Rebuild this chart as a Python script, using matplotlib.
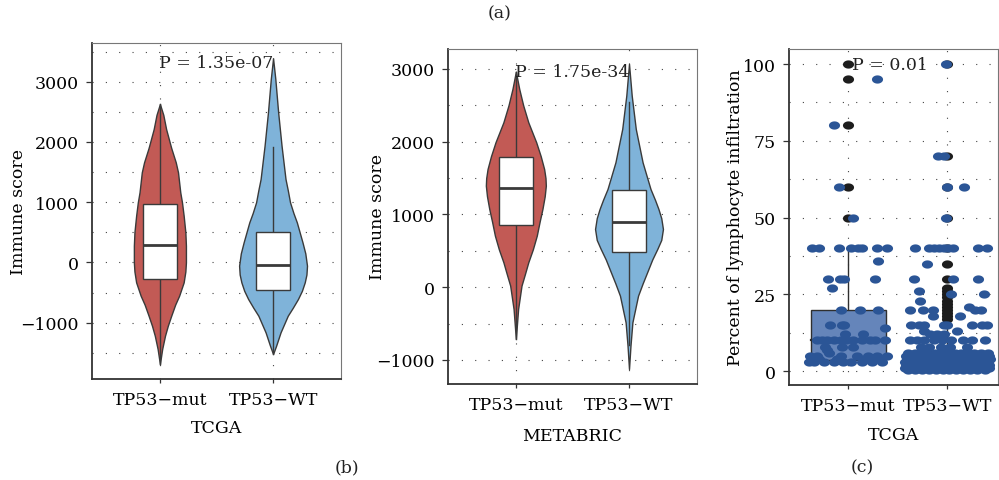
import numpy as np
import matplotlib
matplotlib.use("Agg")
import matplotlib.pyplot as plt
from matplotlib.path import Path

plt.rcParams['font.family'] = ['DejaVu Serif']
plt.rcParams['font.size'] = 12.5
plt.rcParams['text.color'] = '#222222'

groups = ["TP53\u2212mut", "TP53\u2212WT"]

# ---- panel (b) left: TCGA immune score, violin outline (value, half width) ----
tcga_mut_vy = [2630, 2450, 2213, 1900, 1662, 1496, 1164, 1000, 776, 500, 278, 0, -150, -330,
               -552, -700, -884, -1050, -1216, -1437, -1686]
tcga_mut_vw = [0.0, 0.03, 0.055, 0.10, 0.14, 0.16, 0.18, 0.195, 0.21, 0.225, 0.23, 0.23, 0.225, 0.21,
               0.17, 0.135, 0.10, 0.07, 0.045, 0.02, 0.0]
tcga_wt_vy = [3388, 3045, 2492, 1938, 1385, 1200, 998, 820, 666, 500, 334, 150, -54, -200, -330,
              -470, -607, -750, -884, -1161, -1382, -1520]
tcga_wt_vw = [0.0, 0.02, 0.045, 0.075, 0.11, 0.13, 0.15, 0.18, 0.21, 0.235, 0.26, 0.285, 0.30, 0.295, 0.28,
              0.255, 0.22, 0.175, 0.13, 0.066, 0.027, 0.0]
# box stats: whisker low, q1, median, q3, whisker high
tcga_mut_box = [-1680, -280, 290, 970, 2630]
tcga_wt_box = [-1520, -450, -40, 510, 1910]

# ---- panel (b) right: METABRIC immune score ----
meta_mut_vy = [2963, 2725, 2500, 2267, 1992, 1800, 1625, 1500, 1396, 1250, 1076, 900, 709, 520, 343,
               180, 22, -300, -711]
meta_mut_vw = [0.0, 0.03, 0.065, 0.11, 0.18, 0.22, 0.25, 0.262, 0.265, 0.255, 0.235, 0.21, 0.185, 0.15, 0.11,
               0.08, 0.05, 0.02, 0.0]
meta_wt_vy = [3069, 2633, 2175, 1717, 1350, 1200, 1076, 950, 800, 650, 526, 380, 205, 50, -116,
              -482, -803, -1124]
meta_wt_vw = [0.0, 0.024, 0.06, 0.12, 0.19, 0.23, 0.26, 0.285, 0.30, 0.285, 0.25, 0.205, 0.16, 0.12, 0.08,
              0.03, 0.013, 0.0]
meta_mut_box = [-711, 855, 1360, 1790, 2963]
meta_wt_box = [-800, 480, 900, 1330, 2550]

p_tcga = "P = 1.35e-07"
p_meta = "P = 1.75e-34"
p_lym = "P = 0.01"

# ---- panel (c): lymphocyte infiltration, jittered points (value, offset) ----
lym_mut_box = [2, 3.5, 10, 20, 40]
lym_wt_box = [0.5, 1, 3, 6.5, 15]
lym_mut_out = [100, 95, 80, 60, 50]
lym_wt_out = [100, 70, 60, 50, 40, 35, 30, 27, 26, 25, 24, 23, 22, 21, 20, 19, 18, 17]

mut_val = [95, 80, 60, 50,
           40, 40, 40, 40, 40, 40, 40, 40,
           36, 30, 30, 30, 30, 27, 20, 20, 20,
           15, 15, 15, 14, 12, 12,
           10, 10, 10, 10, 10, 10, 10, 10, 10, 10, 10,
           8, 8, 8, 7, 6,
           5, 5, 5, 5, 5, 5, 5,
           4, 4, 4, 4,
           3, 3, 3, 3, 3, 3, 3, 3, 3]
mut_dx = [0.29, -0.15, -0.10, 0.05,
          -0.37, -0.30, -0.10, 0.03, 0.10, 0.135, 0.29, 0.39,
          0.30, -0.21, -0.09, -0.04, 0.27, -0.17, -0.08, 0.12, 0.30,
          -0.19, -0.07, -0.04, 0.37, -0.03, 0.15,
          -0.32, -0.27, -0.22, -0.15, -0.08, -0.02, 0.05, 0.135, 0.22, 0.27, 0.37,
          -0.24, -0.06, 0.05, -0.22, -0.20,
          -0.39, -0.32, -0.08, 0.085, 0.20, 0.29, 0.39,
          -0.30, -0.12, 0.18, 0.32,
          -0.40, -0.35, -0.25, -0.15, -0.05, 0.03, 0.135, 0.24, 0.34]

wt_val = [100, 70, 70, 60, 60, 50,
          40, 40, 40, 40, 40, 40, 40, 40, 40,
          35, 30, 30, 30, 26, 25, 25, 23, 21,
          20, 20, 20, 20, 20, 18, 18,
          15, 15, 15, 15, 15, 15, 15, 15,
          13, 13, 12, 12, 12,
          10, 10, 10, 10, 10, 10, 10, 10, 10,
          8, 8, 8, 8, 8,
          6, 6, 6, 6, 6, 6, 6, 6, 6, 6, 6, 6, 6,
          5, 5, 5, 5, 5, 5, 5, 5, 5, 5, 5, 5, 5, 5,
          4, 4, 4, 4, 4, 4, 4, 4, 4, 4, 4, 4, 4, 4,
          3, 3, 3, 3, 3, 3, 3, 3, 3, 3, 3, 3, 3, 3, 3,
          2, 2, 2, 2, 2, 2, 2, 2, 2, 2, 2, 2, 2, 2, 2,
          1, 1, 1, 1, 1, 1, 1, 1, 1, 1, 1, 1, 1, 1, 1,
          0.5, 0.5, 0.5, 0.5, 0.5, 0.5, 0.5, 0.5, 0.5, 0.5, 0.5, 0.5]
wt_dx = [-0.02, -0.04, -0.10, 0.0, 0.17, -0.01,
         -0.33, -0.19, -0.14, -0.09, -0.04, 0.01, 0.06, 0.31, 0.40,
         -0.21, -0.34, 0.06, 0.31, -0.29, 0.04, 0.37, -0.28, 0.22,
         -0.38, -0.25, -0.15, 0.28, 0.34, -0.15, 0.13,
         -0.37, -0.29, -0.24, -0.04, 0.0, 0.25, 0.35, 0.40,
         -0.24, 0.095, -0.175, -0.11, -0.04,
         -0.38, -0.31, -0.24, -0.14, -0.06, 0.04, 0.16, 0.25, 0.38,
         -0.27, -0.19, -0.07, 0.03, 0.20,
         -0.40, -0.33, -0.27, -0.21, -0.13, -0.06, 0.01, 0.08, 0.14, 0.21, 0.27, 0.34, 0.41,
         -0.42, -0.36, -0.30, -0.23, -0.17, -0.10, -0.04, 0.03, 0.10, 0.16, 0.22, 0.29, 0.35, 0.42,
         -0.41, -0.35, -0.28, -0.22, -0.15, -0.09, -0.02, 0.05, 0.11, 0.18, 0.24, 0.31, 0.37, 0.43,
         -0.43, -0.37, -0.31, -0.25, -0.19, -0.13, -0.07, -0.01, 0.05, 0.11, 0.17, 0.23, 0.29, 0.35, 0.41,
         -0.42, -0.36, -0.30, -0.24, -0.18, -0.12, -0.06, 0.0, 0.06, 0.12, 0.18, 0.24, 0.30, 0.36, 0.42,
         -0.43, -0.37, -0.31, -0.25, -0.19, -0.13, -0.07, -0.01, 0.05, 0.11, 0.17, 0.23, 0.29, 0.35, 0.42,
         -0.40, -0.33, -0.26, -0.19, -0.12, -0.05, 0.02, 0.09, 0.16, 0.23, 0.30, 0.38]

RED = '#c25a55'
BLUE = '#7fb3d9'
EDGE = '#3a3a3a'
PT = '#2b5596'
DOT = (0, (1, 11))

# elliptic point marker (points look slightly wide in the figure)
t = np.linspace(0, 2 * np.pi, 40)
ell = Path(np.column_stack([1.35 * np.cos(t), np.sin(t)]))


def style_axes(ax, yticks, minor):
    for s in ['left', 'bottom']:
        ax.spines[s].set_color('#333333')
        ax.spines[s].set_linewidth(1.3)
    for s in ['top', 'right']:
        ax.spines[s].set_color('#777777')
        ax.spines[s].set_linewidth(0.8)
    ax.set_yticks(yticks)
    ax.set_yticks(minor, minor=True)
    ax.set_xticks([1, 2])
    ax.set_xticklabels(groups)
    ax.tick_params(axis='y', which='major', length=4.5, width=0.9, color='#333333', pad=5, labelsize=12.5)
    ax.tick_params(axis='y', which='minor', length=0)
    ax.tick_params(axis='x', length=3, width=0.9, color='#333333', pad=5.5, labelsize=12.5)
    ax.grid(True, axis='y', which='both', linestyle=DOT, color='#444444', linewidth=0.8, zorder=0)
    ax.grid(True, axis='x', which='major', linestyle=DOT, color='#444444', linewidth=0.8, zorder=0)
    ax.set_axisbelow(True)
    ax.set_xlim(0.4, 2.6)


def violin(ax, x, vy, vw, box, color):
    vy = np.array(vy)
    vw = np.array(vw)
    ax.fill_betweenx(vy, x - vw, x + vw, facecolor=color, edgecolor=EDGE, linewidth=1.0, zorder=2)
    lo, q1, med, q3, hi = box
    ax.plot([x, x], [lo, q1], color=EDGE, lw=1.0, zorder=3)
    ax.plot([x, x], [q3, hi], color=EDGE, lw=1.0, zorder=3)
    ax.add_patch(plt.Rectangle((x - 0.15, q1), 0.30, q3 - q1, facecolor='white', edgecolor=EDGE, lw=1.0, zorder=4))
    ax.plot([x - 0.15, x + 0.15], [med, med], color=EDGE, lw=2.0, zorder=5, solid_capstyle='butt')


fig = plt.figure(figsize=(9.99, 4.81), dpi=100)

ax1 = fig.add_axes([0.0921, 0.2100, 0.2492, 0.6985])
violin(ax1, 1, tcga_mut_vy, tcga_mut_vw, tcga_mut_box, RED)
violin(ax1, 2, tcga_wt_vy, tcga_wt_vw, tcga_wt_box, BLUE)
style_axes(ax1, [-1000, 0, 1000, 2000, 3000], np.arange(-1500, 3501, 500))
ax1.set_ylim(-1934, 3642)
ax1.text(1.5, 3322, p_tcga, ha='center', va='center', zorder=6)
ax1.set_ylabel("Immune score")
ax1.yaxis.set_label_coords(-0.262, 0.5)
ax1.set_xlabel("TCGA", labelpad=8)

ax2 = fig.add_axes([0.4484, 0.1996, 0.2492, 0.6965])
violin(ax2, 1, meta_mut_vy, meta_mut_vw, meta_mut_box, RED)
violin(ax2, 2, meta_wt_vy, meta_wt_vw, meta_wt_box, BLUE)
style_axes(ax2, [-1000, 0, 1000, 2000, 3000], np.arange(-1000, 3001, 500))
ax2.set_ylim(-1330, 3275)
ax2.text(1.5, 2968, p_meta, ha='center', va='center', zorder=6)
ax2.set_ylabel("Immune score")
ax2.yaxis.set_label_coords(-0.25, 0.5)
ax2.set_xlabel("METABRIC", labelpad=10)

ax3 = fig.add_axes([0.7898, 0.1975, 0.2092, 0.6985])
style_axes(ax3, [0, 25, 50, 75, 100], np.arange(0, 100.1, 12.5))
for x, box in [(1, lym_mut_box), (2, lym_wt_box)]:
    lo, q1, med, q3, hi = box
    ax3.plot([x, x], [lo, q1], color='#2f2f2f', lw=1.0, zorder=2)
    ax3.plot([x, x], [q3, hi], color='#2f2f2f', lw=1.0, zorder=2)
    ax3.add_patch(plt.Rectangle((x - 0.377, q1), 0.754, q3 - q1, facecolor='#6585ba', edgecolor='#2f2f2f', lw=1.0, zorder=2))
    ax3.plot([x - 0.377, x + 0.377], [med, med], color='#2f2f2f', lw=1.6, zorder=2)
ax3.scatter(np.ones(len(lym_mut_out)), lym_mut_out, marker=ell, s=64, color='#1d1d1d', linewidths=0, zorder=3)
ax3.scatter(2 * np.ones(len(lym_wt_out)), lym_wt_out, marker=ell, s=64, color='#1d1d1d', linewidths=0, zorder=3)
ax3.scatter(1 + np.array(mut_dx), mut_val, marker=ell, s=64, color=PT, linewidths=0, zorder=4)
ax3.scatter(2 + np.array(wt_dx), wt_val, marker=ell, s=64, color=PT, linewidths=0, zorder=4)
ax3.set_xlim(0.4, 2.51)
ax3.set_ylim(-4.5, 104.9)
ax3.text(1.42, 100, p_lym, ha='center', va='center', zorder=6)
ax3.set_ylabel("Percent of lymphocyte infiltration")
ax3.yaxis.set_label_coords(-0.215, 0.5)
ax3.set_xlabel("TCGA", labelpad=9)

fig.text(500 / 999, 1 - 14 / 481, "(a)", ha='center', va='center')
fig.text(347 / 999, 1 - 468 / 481, "(b)", ha='center', va='center')
fig.text(862 / 999, 1 - 468 / 481, "(c)", ha='center', va='center')

fig.savefig("out.png", dpi=100)
